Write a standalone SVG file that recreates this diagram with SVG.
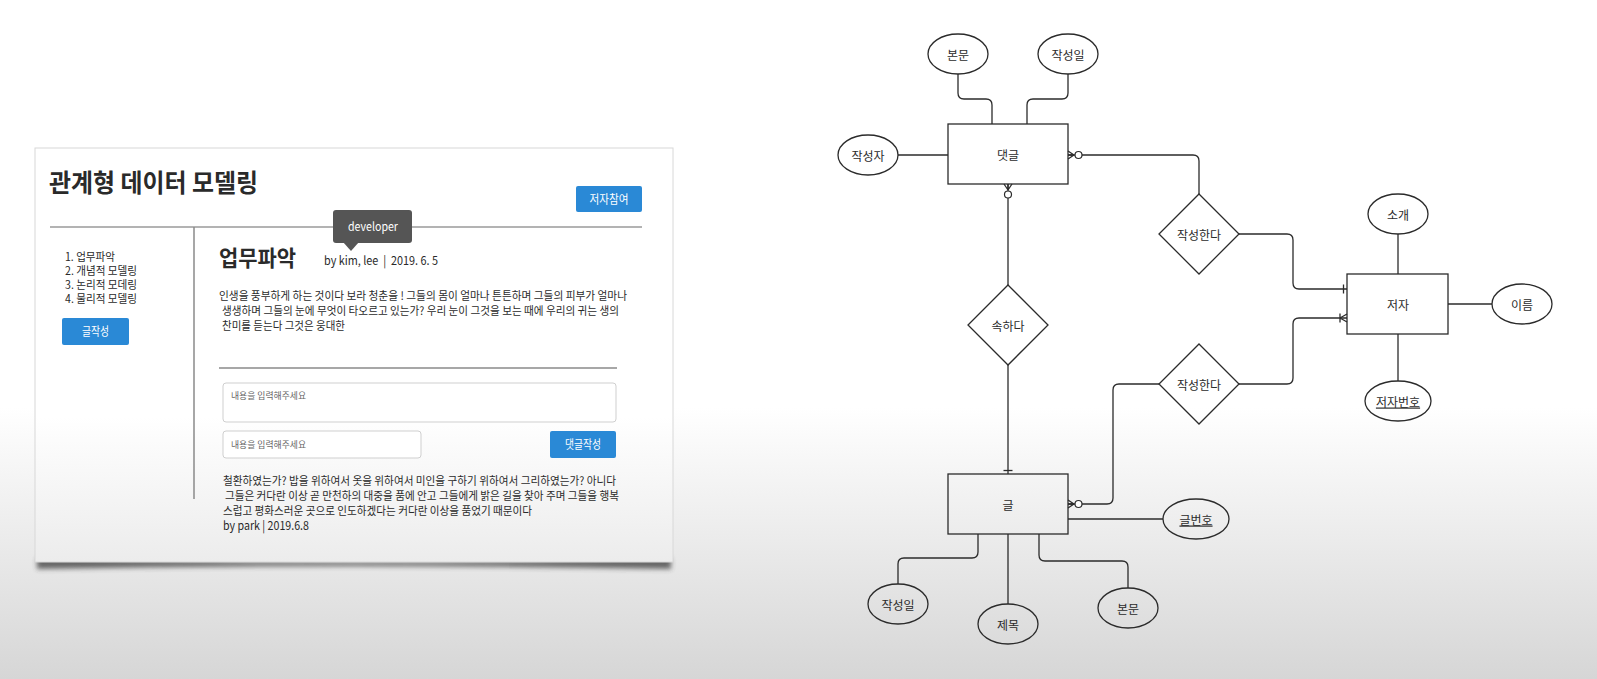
<svg xmlns="http://www.w3.org/2000/svg" width="1597" height="679" viewBox="0 0 1597 679">
<defs>
<linearGradient id="bg" x1="0" y1="0" x2="0" y2="679" gradientUnits="userSpaceOnUse">
<stop offset="0" stop-color="#ffffff"/><stop offset="0.6" stop-color="#ffffff"/><stop offset="1" stop-color="#d6d6d6"/>
</linearGradient>
<linearGradient id="card" x1="0" y1="148" x2="0" y2="562" gradientUnits="userSpaceOnUse">
<stop offset="0" stop-color="#ffffff"/><stop offset="0.65" stop-color="#ffffff"/><stop offset="1" stop-color="#ececec"/>
</linearGradient>
<filter id="blur" x="-10%" y="-200%" width="120%" height="500%"><feGaussianBlur stdDeviation="2.5"/></filter>
<filter id="soft" x="-5%" y="-5%" width="110%" height="110%"><feGaussianBlur stdDeviation="1.5"/></filter>
<marker id="zeroMany" markerUnits="userSpaceOnUse" markerWidth="24" markerHeight="14" viewBox="-18 -7 24 14" refX="0" refY="0" orient="auto" overflow="visible">
<path d="M-6,0 L0,-4 M-6,0 L0,4 M-6,0 L0,0" fill="none" stroke="#2b2b2b" stroke-width="1.3"/>
<circle cx="-10.5" cy="0" r="3.5" fill="#fff" stroke="#2b2b2b" stroke-width="1.2"/>
</marker>
<marker id="one" markerUnits="userSpaceOnUse" markerWidth="12" markerHeight="12" viewBox="-8 -6 12 12" refX="0" refY="0" orient="auto" overflow="visible">
<path d="M-3.5,-4.5 L-3.5,4.5" fill="none" stroke="#2b2b2b" stroke-width="1.3"/>
</marker>
<marker id="oneMany" markerUnits="userSpaceOnUse" markerWidth="16" markerHeight="12" viewBox="-12 -6 16 12" refX="0" refY="0" orient="auto" overflow="visible">
<path d="M-7,-4.5 L-7,4.5 M-7,0 L0,-4 M-7,0 L0,4" fill="none" stroke="#2b2b2b" stroke-width="1.3"/>
</marker>
</defs>
<style>
.t{font-family:'Noto Sans CJK KR','Noto Sans',sans-serif;fill:#2a2a2a}
.pre{white-space:pre}
.btn{fill:#2a89d6}
.bt{font-family:'Noto Sans CJK KR','Noto Sans',sans-serif;fill:#fff;font-size:12px;text-anchor:middle}
.ph{font-family:'Noto Sans CJK KR','Noto Sans',sans-serif;fill:#666;font-size:9px}
.box{fill:#fff;stroke:#cfcfcf;stroke-width:1}
.e{fill:none;stroke:#2b2b2b;stroke-width:1.3}
.c{fill:none;stroke:#2b2b2b;stroke-width:1.3}
.lb{font-family:'Noto Sans CJK KR','Noto Sans',sans-serif;fill:#2b2b2b;font-size:12px;text-anchor:middle;dominant-baseline:central}
.ul{text-decoration:underline}
</style>
<rect x="0" y="0" width="1597" height="679" fill="url(#bg)"/>

<g id="mockup">
<path d="M37,558 Q355,566 671,558 L671,569 Q355,563 37,569 Z" fill="#3a3a3a" opacity="0.75" filter="url(#blur)"/>
<rect x="35" y="148" width="638" height="414" fill="url(#card)" stroke="#d8d8d8" stroke-width="1"/>
<text class="t" x="49" y="192" font-size="25" font-weight="bold" textLength="209" lengthAdjust="spacingAndGlyphs">관계형 데이터 모델링</text>
<g id="btn-join"><rect class="btn" x="576" y="186" width="66" height="26" rx="2"/><text class="bt" x="609" y="203.5" textLength="39" lengthAdjust="spacingAndGlyphs">저자참여</text></g>
<line x1="50" y1="227" x2="642" y2="227" stroke="#9a9a9a" stroke-width="1.5"/>
<line x1="194" y1="227" x2="194" y2="499" stroke="#8a8a8a" stroke-width="1.5"/>
<g id="tooltip"><rect x="333" y="210" width="79" height="33" rx="3" fill="#555"/><path d="M343,242 L351,251 L359,242 Z" fill="#555"/><text class="bt" x="373" y="231" textLength="50" lengthAdjust="spacingAndGlyphs">developer</text></g>
<g id="menu" font-size="11.5">
<text class="t" x="65" y="261" textLength="50" lengthAdjust="spacingAndGlyphs">1. 업무파악</text>
<text class="t" x="65" y="275" textLength="72" lengthAdjust="spacingAndGlyphs">2. 개념적 모델링</text>
<text class="t" x="65" y="289" textLength="72" lengthAdjust="spacingAndGlyphs">3. 논리적 모데링</text>
<text class="t" x="65" y="303" textLength="72" lengthAdjust="spacingAndGlyphs">4. 물리적 모델링</text>
</g>
<g id="btn-write"><rect class="btn" x="62" y="318" width="67" height="27" rx="2"/><text class="bt" x="95.5" y="336" textLength="27" lengthAdjust="spacingAndGlyphs">글작성</text></g>
<text class="t" x="219" y="266" font-size="22" font-weight="bold" textLength="77" lengthAdjust="spacingAndGlyphs">업무파악</text>
<text class="t pre" x="324" y="265" font-size="12" textLength="114" lengthAdjust="spacingAndGlyphs">by kim, lee  |  2019. 6. 5</text>
<g id="para1" font-size="11.5">
<text class="t" x="219" y="300" textLength="408" lengthAdjust="spacingAndGlyphs">인생을 풍부하게 하는 것이다 보라 청춘을 ! 그들의 몸이 얼마나 튼튼하며 그들의 피부가 얼마나</text>
<text class="t" x="222" y="315" textLength="397" lengthAdjust="spacingAndGlyphs">생생하며 그들의 눈에 무엇이 타오르고 있는가? 우리 눈이 그것을 보는 때에 우리의 귀는 생의</text>
<text class="t" x="222" y="330" textLength="123" lengthAdjust="spacingAndGlyphs">찬미를 듣는다 그것은 웅대한</text>
</g>
<line x1="219" y1="368" x2="617" y2="368" stroke="#8a8a8a" stroke-width="1.3"/>
<g id="textarea"><rect class="box" x="223" y="383" width="393" height="39" rx="3"/><text class="ph" x="231" y="399" textLength="75" lengthAdjust="spacingAndGlyphs">내용을 입력해주세요</text></g>
<g id="input"><rect class="box" x="223" y="431" width="198" height="27" rx="3"/><text class="ph" x="231" y="448" textLength="75" lengthAdjust="spacingAndGlyphs">내용을 입력해주세요</text></g>
<g id="btn-comment"><rect class="btn" x="550" y="431" width="66" height="27" rx="2"/><text class="bt" x="583" y="449" textLength="36" lengthAdjust="spacingAndGlyphs">댓글작성</text></g>
<g id="para2" font-size="11.5">
<text class="t" x="223" y="485" textLength="393" lengthAdjust="spacingAndGlyphs">철환하였는가? 밥을 위하여서 옷을 위하여서 미인을 구하기 위하여서 그리하였는가? 아니다</text>
<text class="t" x="225" y="500" textLength="394" lengthAdjust="spacingAndGlyphs">그들은 커다란 이상 곧 만천하의 대중을 품에 안고 그들에게 밝은 길을 찾아 주며 그들을 행복</text>
<text class="t" x="223" y="515" textLength="309" lengthAdjust="spacingAndGlyphs">스럽고 평화스러운 곳으로 인도하겠다는 커다란 이상을 품었기 때문이다</text>
<text class="t" x="223" y="530" font-size="12" textLength="86" lengthAdjust="spacingAndGlyphs">by park | 2019.6.8</text>
</g>
</g>

<g id="connectors">
<path class="c" d="M958,74 V93 Q958,99 964,99 H986 Q992,99 992,105 V124"/>
<path class="c" d="M1068,74 V93 Q1068,99 1062,99 H1033 Q1027,99 1027,105 V124"/>
<line class="c" x1="898" y1="155" x2="948" y2="155"/>
<path class="c" d="M1199,194 V161 Q1199,155 1193,155 H1068" marker-end="url(#zeroMany)"/>
<path class="c" d="M1008,285 V184" marker-end="url(#zeroMany)"/>
<path class="c" d="M1008,365 V474" marker-end="url(#one)"/>
<path class="c" d="M1159,384 H1119 Q1113,384 1113,390 V498 Q1113,504 1107,504 H1068" marker-end="url(#zeroMany)"/>
<path class="c" d="M1239,234 H1287 Q1293,234 1293,240 V283 Q1293,289 1299,289 H1347" marker-end="url(#one)"/>
<path class="c" d="M1239,384 H1287 Q1293,384 1293,378 V324 Q1293,318 1299,318 H1347" marker-end="url(#oneMany)"/>
<line class="c" x1="1398" y1="234" x2="1398" y2="274"/>
<line class="c" x1="1448" y1="304" x2="1492" y2="304"/>
<line class="c" x1="1398" y1="334" x2="1398" y2="381"/>
<line class="c" x1="1068" y1="519" x2="1163" y2="519"/>
<path class="c" d="M978,534 V552 Q978,558 972,558 H904 Q898,558 898,564 V584"/>
<line class="c" x1="1008" y1="534" x2="1008" y2="604"/>
<path class="c" d="M1039,534 V555 Q1039,561 1045,561 H1122 Q1128,561 1128,567 V588"/>
</g>

<g id="ent-comment"><rect class="e" x="948" y="124" width="120" height="60"/><text class="lb" x="1008" y="154">댓글</text></g>
<g id="ent-author"><rect class="e" x="1347" y="274" width="101" height="60"/><text class="lb" x="1398" y="304">저자</text></g>
<g id="ent-post"><rect class="e" x="948" y="474" width="120" height="60"/><text class="lb" x="1008" y="504">글</text></g>
<g id="rel-write1"><path class="e" d="M1199,194 L1239,234 L1199,274 L1159,234 Z"/><text class="lb" x="1199" y="234">작성한다</text></g>
<g id="rel-write2"><path class="e" d="M1199,344 L1239,384 L1199,424 L1159,384 Z"/><text class="lb" x="1199" y="384">작성한다</text></g>
<g id="rel-belong"><path class="e" d="M1008,285 L1048,325 L1008,365 L968,325 Z"/><text class="lb" x="1008" y="325">속하다</text></g>
<g id="att-c-body"><ellipse class="e" cx="958" cy="54" rx="30" ry="20"/><text class="lb" x="958" y="54">본문</text></g>
<g id="att-c-date"><ellipse class="e" cx="1068" cy="54" rx="30" ry="20"/><text class="lb" x="1068" y="54">작성일</text></g>
<g id="att-c-writer"><ellipse class="e" cx="868" cy="155" rx="30" ry="20"/><text class="lb" x="868" y="155">작성자</text></g>
<g id="att-a-intro"><ellipse class="e" cx="1398" cy="214" rx="30" ry="20"/><text class="lb" x="1398" y="214">소개</text></g>
<g id="att-a-name"><ellipse class="e" cx="1522" cy="304" rx="30" ry="20"/><text class="lb" x="1522" y="304">이름</text></g>
<g id="att-a-id"><ellipse class="e" cx="1398" cy="401" rx="33" ry="20"/><text class="lb ul" x="1398" y="401">저자번호</text></g>
<g id="att-p-id"><ellipse class="e" cx="1196" cy="519" rx="33" ry="20"/><text class="lb ul" x="1196" y="519">글번호</text></g>
<g id="att-p-date"><ellipse class="e" cx="898" cy="604" rx="30" ry="20"/><text class="lb" x="898" y="604">작성일</text></g>
<g id="att-p-title"><ellipse class="e" cx="1008" cy="624" rx="30" ry="20"/><text class="lb" x="1008" y="624">제목</text></g>
<g id="att-p-body"><ellipse class="e" cx="1128" cy="608" rx="30" ry="20"/><text class="lb" x="1128" y="608">본문</text></g>
</svg>
